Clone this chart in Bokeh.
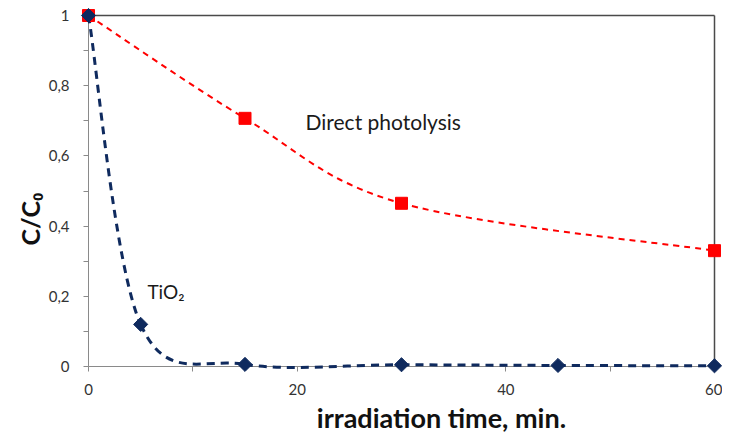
import math
from bokeh.plotting import figure
from bokeh.models import Range1d, FixedTicker, CustomJSTickFormatter, Label, LinearAxis
from bokeh.embed import file_html
from bokeh.resources import INLINE

# ---- data ----
photo_x = [0, 15, 30, 60]
photo_y = [1.0, 0.707, 0.465, 0.33]
tio2_x = [0, 5, 15, 30, 45, 60]
tio2_y = [1.0, 0.12, 0.006, 0.005, 0.003, 0.002]
x_ticks = [0, 20, 40, 60]
x_minor = [10, 30, 50]
y_ticks = [0, 0.2, 0.4, 0.6, 0.8, 1.0]
y_minor = [0.1, 0.3, 0.5, 0.7, 0.9]

# ---- layout (pixels) ----
W, H = 722, 437              # canvas
BOX_L, BOX_R = 88, 714       # x=0 .. x=60
BOX_T, BOX_B = 15, 366       # y=1 .. y=0
X0, X1, Y0, Y1 = 0, 60, 0, 1
sx = (BOX_R - BOX_L) / (X1 - X0)
sy = (BOX_B - BOX_T) / (Y1 - Y0)
xr = Range1d(X0 - BOX_L / sx, X1 + (W - BOX_R) / sx)
yr = Range1d(Y0 - (H - BOX_B) / sy, Y1 + BOX_T / sy)

p = figure(output_backend="svg", toolbar_location=None,
           frame_width=W, frame_height=H,
           min_border_left=0, min_border_right=0,
           min_border_top=0, min_border_bottom=0,
           x_range=xr, y_range=yr)
p.xgrid.visible = False
p.ygrid.visible = False
p.outline_line_color = None
p.background_fill_color = "white"
p.border_fill_color = "white"

FONT = "Lato"
AX = "#8a8a8a"
for ax in (p.xaxis[0], p.yaxis[0]):
    ax.axis_line_color = AX
    ax.major_tick_line_color = AX
    ax.minor_tick_line_color = AX
    ax.major_tick_in = 0
    ax.major_tick_out = 5
    ax.minor_tick_in = 0
    ax.minor_tick_out = 5
    ax.major_label_text_font = FONT
    ax.major_label_text_font_size = "15px"
    ax.major_label_text_color = "#333333"

p.xaxis[0].fixed_location = Y0
p.xaxis[0].bounds = (X0, X1)
p.yaxis[0].fixed_location = X0
p.yaxis[0].bounds = (Y0, Y1)
p.xaxis[0].ticker = FixedTicker(ticks=x_ticks, minor_ticks=x_minor)
p.yaxis[0].ticker = FixedTicker(ticks=y_ticks, minor_ticks=y_minor)
p.xaxis[0].major_label_standoff = 12
p.yaxis[0].major_label_standoff = 14
p.yaxis[0].formatter = CustomJSTickFormatter(
    code="var s = tick.toFixed(1).replace('.', ','); if (s.endsWith(',0')) s = s.slice(0, -2); return s;")

# top and right frame lines of the plot box
for loc, fixed, bnds in (("above", Y1, (X0, X1)), ("right", X1, (Y0, Y1))):
    bx = LinearAxis(fixed_location=fixed, bounds=bnds, axis_line_color="#4a4a4a",
                    axis_line_width=1.5, major_tick_line_color=None,
                    minor_tick_line_color=None, major_label_text_font_size="0px",
                    major_label_text_alpha=0)
    p.add_layout(bx, loc)


def smooth_segments(xs, ys):
    P = [(x * sx, y * sy) for x, y in zip(xs, ys)]
    n = len(P)
    f = 1.0 / 6.0
    out = {k: [] for k in ("x0", "y0", "x1", "y1", "cx0", "cy0", "cx1", "cy1")}
    for i in range(n - 1):
        p0 = P[i - 1] if i > 0 else P[i]
        p1 = P[i]
        p2 = P[i + 1]
        p3 = P[i + 2] if i + 2 < n else P[i + 1]
        c1 = (p1[0] + (p2[0] - p0[0]) * f, p1[1] + (p2[1] - p0[1]) * f)
        c2 = (p2[0] - (p3[0] - p1[0]) * f, p2[1] - (p3[1] - p1[1]) * f)
        out["x0"].append(p1[0] / sx); out["y0"].append(p1[1] / sy)
        out["x1"].append(p2[0] / sx); out["y1"].append(p2[1] / sy)
        out["cx0"].append(c1[0] / sx); out["cy0"].append(c1[1] / sy)
        out["cx1"].append(c2[0] / sx); out["cy1"].append(c2[1] / sy)
    return out


RED = "#FF0000"
NAVY = "#0F2A5E"

s = smooth_segments(photo_x, photo_y)
p.bezier(source=s, x0="x0", y0="y0", x1="x1", y1="y1", cx0="cx0", cy0="cy0",
         cx1="cx1", cy1="cy1", line_color=RED, line_width=2, line_dash="6 5",
         level="overlay")
s2 = smooth_segments(tio2_x, tio2_y)
p.bezier(source=s2, x0="x0", y0="y0", x1="x1", y1="y1", cx0="cx0", cy0="cy0",
         cx1="cx1", cy1="cy1", line_color=NAVY, line_width=3, line_dash="8 6",
         level="overlay")

p.scatter(photo_x, photo_y, marker="square", size=12, fill_color=RED, line_color=RED,
          level="overlay")
p.scatter(tio2_x, tio2_y, marker="square", angle=math.pi / 4, size=10,
          fill_color=NAVY, line_color=NAVY, level="overlay")

p.add_layout(Label(x=20.8, y=0.698, text="Direct photolysis", text_font=FONT,
                   text_font_size="21px", text_color="#1a1a1a",
                   text_align="left", text_baseline="middle"))
p.add_layout(Label(x=5.65, y=0.214, text="TiO₂", text_font=FONT,
                   text_font_size="19px", text_color="#1a1a1a",
                   text_align="left", text_baseline="middle"))
p.add_layout(Label(x=33.83, y=-0.146, text="irradiation time, min.", text_font=FONT,
                   text_font_size="27px", text_font_style="bold", text_color="#111111",
                   text_align="center", text_baseline="middle"))
p.add_layout(Label(x=-5.6, y=0.42, text="C/C₀", text_font=FONT, angle=math.pi / 2,
                   text_font_size="25px", text_font_style="bold", text_color="#111111",
                   text_align="center", text_baseline="middle"))

open("out.html", "w").write(file_html(p, INLINE))
